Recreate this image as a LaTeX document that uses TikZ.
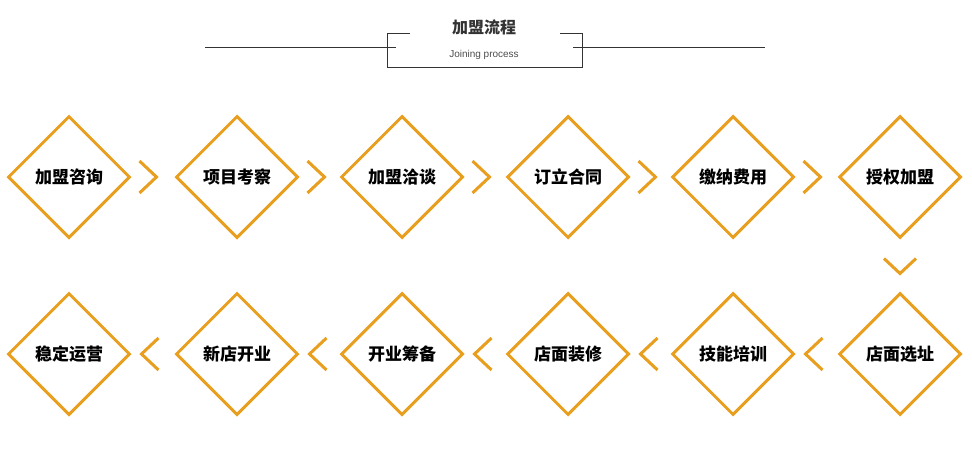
\documentclass[tikz,border=0pt]{standalone}
\usepackage{fontspec}
\usetikzlibrary{shapes.geometric}
\newfontfamily\cjk{Noto Sans CJK SC}
\setmainfont{Liberation Sans}
\definecolor{og}{HTML}{E89E1E}
\begin{document}
\begin{tikzpicture}[x=1pt,y=-1pt,
 dia/.style={diamond,aspect=1,draw=og,line width=3pt,minimum width=122pt,minimum height=122pt,inner sep=0pt,font=\cjk\bfseries\fontsize{17}{17}\selectfont},
 chev/.style={draw=og,line width=3pt}]
\useasboundingbox (0,0) rectangle (972,471);
\node[font=\cjk\bfseries\fontsize{16}{16}\selectfont,text=black!80] (t) at (484,27) {加盟流程};
\node[font=\fontsize{10}{10}\selectfont,text=black!70] (s) at (484,55) {Joining process};
\draw[black!80] (410,33) -- (387,33) -- (387,67) -- (582,67) -- (582,33) -- (560,33);
\draw[black!80] (205,47) -- (396,47) (573,47) -- (765,47);
\foreach \x/\t [count=\i] in {69/加盟咨询,237/项目考察,402/加盟洽谈,568/订立合同,733/缴纳费用,900/授权加盟}
  \node[dia] (a\i) at (\x,177) {\t};
\foreach \x/\t [count=\i] in {69/稳定运营,237/新店开业,402/开业筹备,568/店面装修,733/技能培训,900/店面选址}
  \node[dia] (b\i) at (\x,354) {\t};
\foreach \i in {1,...,5}{
  \draw[chev] ([shift={(8,-16)}]a\i.east) -- ([shift={(25,0)}]a\i.east) -- ([shift={(8,16)}]a\i.east);
  \draw[chev] ([shift={(27,-16)}]b\i.east) -- ([shift={(10,0)}]b\i.east) -- ([shift={(27,16)}]b\i.east);
}
\draw[chev] ([shift={(-16,19)}]a6.south) -- ([shift={(0,34)}]a6.south) -- ([shift={(16,19)}]a6.south);
\end{tikzpicture}
\end{document}
